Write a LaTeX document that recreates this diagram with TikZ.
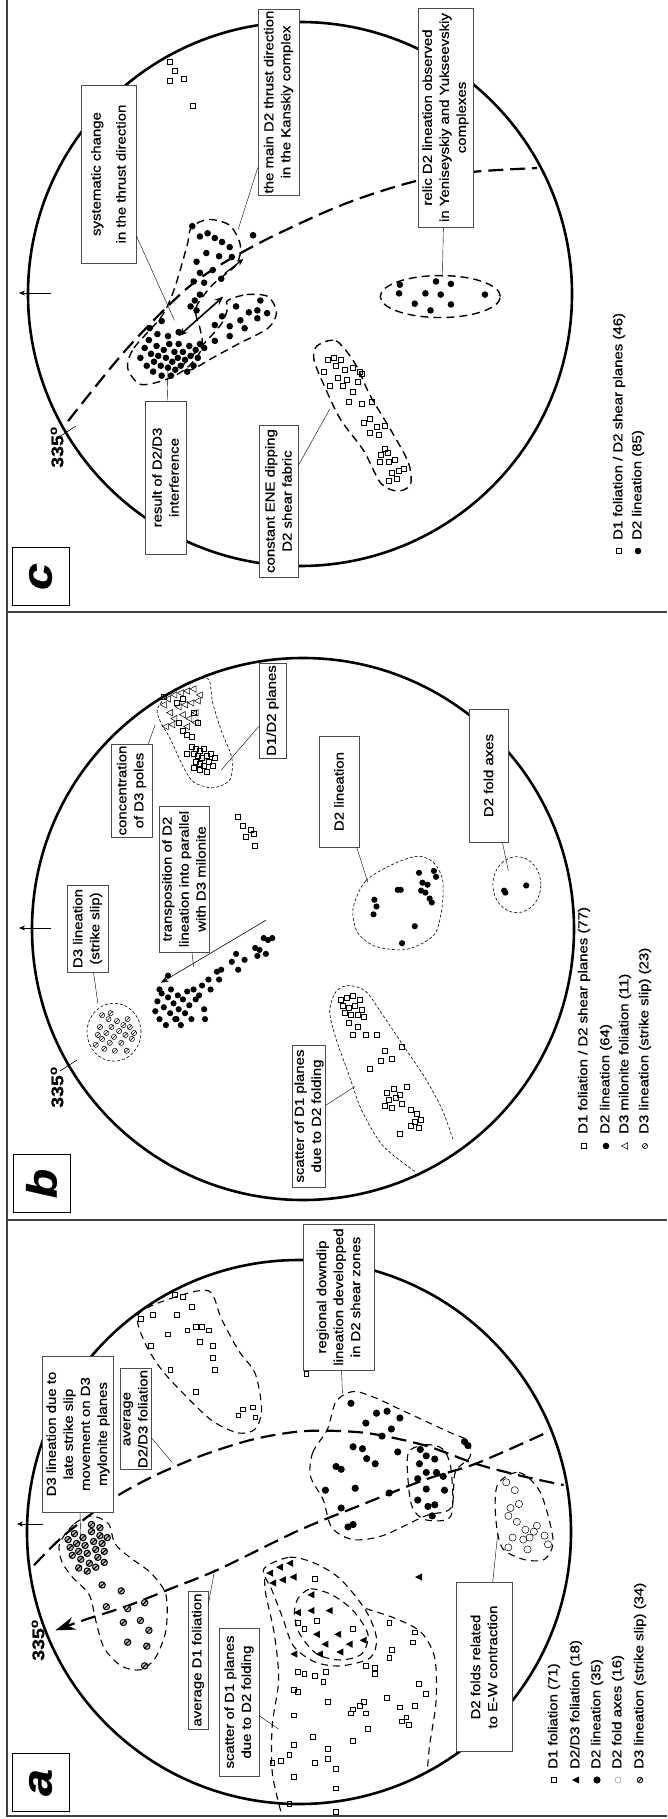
\documentclass[tikz,border=0pt]{standalone}
\usepackage{fontspec}
\setmainfont[FakeStretch=1.15,FakeBold=0.7]{Liberation Sans}
\usetikzlibrary{arrows.meta}

\tikzset{
  net/.style={line width=2.6pt},
  frame/.style={line width=1.2pt, black!75},
  note/.style={draw=black!70, fill=white, line width=0.6pt, rotate=90, align=center,
    inner sep=1.5pt, font=\fontsize{13}{17}\selectfont},
  letter/.style={draw, line width=1pt, rotate=90, minimum width=58pt, minimum height=57pt,
    inner sep=0pt, font=\fontsize{42}{42}\selectfont\bfseries\itshape},
  key/.style={rotate=90, anchor=west, inner sep=0pt, font=\fontsize{13}{15}\selectfont},
  deg/.style={rotate=90, inner sep=0pt, font=\fontsize{17}{17}\selectfont\bfseries},
  lead/.style={line width=0.4pt},
  girdle/.style={line width=2.2pt, dash pattern=on 15pt off 7pt},
  zonec/.style={line width=1.4pt, dash pattern=on 8pt off 5pt},
  zoneb/.style={line width=0.6pt, dash pattern=on 3pt off 2pt},
  zonea/.style={line width=1.1pt, dash pattern=on 7pt off 5pt},
  sq/.style={line width=0.5pt},
}

\begin{document}
\begin{tikzpicture}[x=1pt,y=-1pt]
\useasboundingbox (0,0) rectangle (667,1819);

% frame and panels
\draw[frame] (7,0) -- (7,1816) -- (667,1816);
\draw[frame] (7,612) -- (667,612);
\draw[frame] (7,1220) -- (667,1220);

% nets
\draw[net] (300,294) circle[radius=272pt];
\draw[net] (303,929) circle[radius=271pt];
\draw[net] (299,1532) circle[radius=272pt];

% north arrows and 335 ticks
\coordinate (cn0) at (51,293);  \coordinate (cn1) at (19,293);
\coordinate (bn0) at (51,928);  \coordinate (bn1) at (19,928);
\coordinate (an0) at (43,1524); \coordinate (an1) at (17,1524);
\foreach \p in {c,b,a}{
  \draw[line width=0.6pt, -{Stealth[length=6pt,width=5pt]}] (\p n0) -- (\p n1);
}
\coordinate (ct0) at (59,437);  \coordinate (ct1) at (76,426);
\coordinate (bt0) at (60,1071); \coordinate (bt1) at (77,1060);
\draw[line width=0.6pt] (ct0) -- (ct1);
\draw[line width=0.6pt] (bt0) -- (bt1);
\node[deg] (cdeg) at (57,447) {335\textsuperscript{o}};
\node[deg] (bdeg) at (57,1087) {335\textsuperscript{o}};
\node[deg] (adeg) at (38,1640) {335\textsuperscript{o}};

% ---------------- panel c
\begin{scope}[x=0.4254pt,y=-0.3954pt]
\draw[girdle] plot[smooth] coordinates {(160,1065) (300,880) (450,720) (600,620) (800,520) (970,460) (1110,435) (1262,425)};
\draw[zonec] plot[smooth cycle] coordinates {(300,930) (315,880) (380,800) (410,730) (440,620) (450,575) (490,555) (540,570) (565,620) (555,670) (500,720) (460,780) (470,830) (475,880) (440,930) (390,960) (330,972)};
\draw[zonec] plot[smooth cycle] coordinates {(535,760) (580,745) (630,750) (650,790) (630,830) (560,870) (500,905) (450,935) (430,925) (470,880) (520,820) (535,780)};
\draw[zonec] plot[smooth cycle] coordinates {(745,875) (790,862) (835,920) (870,1000) (920,1090) (960,1170) (965,1225) (935,1242) (895,1222) (855,1140) (800,1060) (760,970) (738,910)};
\draw[zonec] (1035,750) ellipse[x radius=60pt, y radius=21pt];
% D2 lineation
\foreach \x/\y in {330/905,340/880,345/925,350/860,355/895,360/940,362/915,368/875,372/900,378/925,
  380/950,385/885,390/905,395/930,398/870,402/950,405/915,410/890,412/935,418/905,420/870,425/925,
  430/890,435/910,440/940,445/875,448/900,455/925,460/885,465/905,470/870,352/830,370/845,395/850,
  420/840,458/760,462/785,448/775,470/745,380/812,
  452/572,470/598,488/590,505/602,522/612,540/625,545/650,515/648,485/640,462/662,500/683,470/690,
  455/712,480/715,520/705,595/595,
  540/825,565/810,585/790,605/785,628/792,605/805,575/830,540/850,505/862,480/880,505/822,522/800,
  555/775,612/760,
  940/720,938/742,975/768,1000/742,1012/785,1025/712,1036/745,1060/718,1060/770,1140/745}
  \fill (\x,\y) circle[radius=3.3pt];
% D1 foliation / D2 shear planes
\foreach \x/\y in {770/910,785/905,800/910,790/925,810/935,830/930,845/940,795/955,815/960,840/965,
  775/975,805/975,830/990,820/1015,850/1020,875/1015,855/1070,870/1060,885/1080,905/1078,870/1095,
  890/1100,905/1135,895/1150,912/1145,928/1162,892/1168,915/1168,938/1190,950/1186,920/1195,
  932/1210,915/1215,850/945,760/940,
  398/155,410/180,398/205,432/200,452/268}
  \draw[sq] (\x,\y) +(-2.5pt,-2.5pt) rectangle +(2.5pt,2.5pt);
\draw[line width=1.6pt, {Stealth[length=9pt,width=7pt]}-{Stealth[length=9pt,width=7pt]}] (420,850) -- (525,750);
\draw[line width=1.2pt, -{Stealth[length=7pt,width=6pt]}] (528,692) -- (572,655);
\coordinate (csys-e) at (410,810);
\coordinate (cmain-e) at (560,580);
\coordinate (crelic-e) at (1040,700);
\coordinate (cres-e) at (395,920);
\coordinate (cene-e) at (775,1035);
\end{scope}

% ---------------- panel b
\begin{scope}[shift={(0pt,-600pt)},x=0.4254pt,y=-0.3954pt]
\draw[zoneb] (268,1093) ellipse[x radius=27pt, y radius=29pt];
\draw[zoneb] plot[smooth cycle] coordinates {(370,275) (400,235) (450,205) (490,200) (500,260) (520,330) (545,400) (540,455) (500,475) (455,460) (430,420) (400,350) (378,310)};
\draw[zoneb] plot[smooth cycle] coordinates {(830,780) (860,710) (930,665) (985,648) (1020,665) (1040,705) (1040,770) (1025,840) (990,870) (945,885) (880,875) (840,840)};
\draw[zoneb] (1215,720) ellipse[x radius=24pt, y radius=28pt];
\draw[zoneb] plot[smooth] coordinates {(975,1445) (900,1380) (850,1290) (820,1200) (790,1110) (775,1040) (790,990) (820,975) (860,990) (900,1050) (950,1130) (1000,1210) (1040,1290) (1065,1365)};
% D3 lineation (strike slip)
\foreach \x/\y in {225/1125,230/1100,235/1080,240/1110,245/1135,250/1095,255/1060,258/1120,262/1080,
  268/1105,270/1140,275/1065,280/1090,285/1120,290/1075,295/1100,298/1140,305/1080,310/1110,
  315/1095,260/1045,240/1050,300/1060}
  \draw[line width=0.5pt] (\x,\y) circle[radius=2.6pt] (\x,\y) ++(-1.8pt,-1.8pt) -- ++(3.6pt,3.6pt);
% D2 lineation
\foreach \x/\y in {365/1040,370/1015,375/1060,380/995,385/1030,390/1075,395/1005,400/1045,402/985,
  408/1020,412/1060,418/1000,420/1035,425/1075,430/1010,435/1045,440/990,445/1025,450/1060,
  460/1010,455/985,468/1000,475/975,480/1035,490/960,495/985,510/940,515/960,520/935,545/915,
  555/895,560/935,575/910,600/880,605/900,610/885,625/895,630/860,640/855,620/855,482/1060,
  395/950,415/1060,375/985,
  935/733,942/733,880/758,885/775,878/795,985/690,993/715,1020/685,1025/700,1000/740,1010/755,
  1015/765,975/825,945/868,990/735,1005/720,
  1185/735,1188/740,1237/722}
  \fill (\x,\y) circle[radius=3.1pt];
% D3 milonite foliation
\foreach \x/\y in {385/265,395/250,410/240,425/235,440/230,455/225,470/240,400/285,420/270,435/265,
  450/260,465/255,410/300,430/290,445/300,460/285,405/315,440/320,460/310,390/320}
  \draw[sq] (\x,\y) ++(-3.5pt,0pt) -- ++(6pt,3.2pt) -- ++(0pt,-6.4pt) -- cycle;
% D1 foliation / D2 shear planes
\foreach \x/\y in {385/245,415/260,430/250,455/285,465/310,420/310,430/330,440/340,450/370,460/375,
  470/380,480/375,455/390,465/395,475/400,485/395,495/390,460/410,470/415,480/420,490/410,500/420,
  455/425,470/430,485/435,505/400,440/390,450/345,
  560/548,570/572,590/580,597/590,578/600,598/622,
  800/1010,815/1005,830/1000,845/1010,805/1025,820/1030,835/1025,850/1035,810/1045,825/1050,
  840/1050,855/1055,820/1070,840/1080,830/1100,860/1100,885/1100,905/1140,945/1130,870/1185,
  895/1165,920/1160,910/1245,925/1235,940/1250,955/1230,915/1265,930/1260,945/1275,905/1280,
  920/1285,965/1290,980/1300,975/1320,990/1315,985/1335,965/1330,940/1350}
  \draw[sq] (\x,\y) +(-2.5pt,-2.5pt) rectangle +(2.5pt,2.5pt);
\draw[line width=0.6pt, -{Stealth[length=8pt,width=6pt]}] (625,810) -- (378,968);
\coordinate (bss-e) at (230,1020);
\coordinate (btr-e) at (455,928);
\coordinate (bcon-e) at (365,315);
\coordinate (bpl-e) at (520,430);
\coordinate (blin-e) at (865,715);
\coordinate (bfold-e) at (1195,685);
\coordinate (bsc-e) at (835,1230);
\end{scope}

% ---------------- panel a
\begin{scope}[shift={(0pt,-1200pt)},x=0.4254pt,y=-0.3948pt]
\draw[girdle] plot[smooth] coordinates {(80,925) (150,850) (260,760) (360,700) (480,645) (600,605) (720,585) (860,590) (1000,622) (1118,668) (1230,700) (1325,722)};
\draw[girdle, -{Stealth[length=20pt,width=13pt]}] plot[smooth] coordinates {(1277,593) (1118,668) (1000,708) (850,772) (700,838) (515,935) (400,985) (300,1028) (200,1063) (130,1090)};
\draw[zonea] plot[smooth cycle] coordinates {(140,870) (175,820) (215,800) (255,820) (270,870) (305,905) (355,945) (390,1000) (390,1090) (365,1160) (330,1190) (285,1180) (245,1135) (225,1065) (210,1000) (170,955) (145,915)};
\draw[zonea] plot[smooth cycle] coordinates {(325,290) (400,250) (490,230) (520,300) (560,380) (600,440) (615,530) (600,580) (560,590) (500,560) (440,500) (380,430) (340,360)};
\draw[zonea] plot[smooth cycle] coordinates {(620,935) (680,905) (740,920) (800,960) (860,1040) (885,1110) (870,1160) (800,1180) (740,1170) (690,1130) (665,1060) (640,990)};
\draw[zonea] plot[smooth cycle] coordinates {(700,1010) (730,985) (780,1000) (830,1040) (865,1100) (850,1150) (800,1165) (745,1150) (705,1100) (692,1050)};
\draw[zonea] plot[smooth] coordinates {(660,1548) (640,1450) (640,1330) (655,1215) (645,1100) (625,1000) (622,960)};
\draw[zonea] plot[smooth] coordinates {(860,1035) (930,1060) (990,1095) (1022,1160) (1025,1270) (1010,1380) (1005,1440)};
\draw[zonea] plot[smooth cycle] coordinates {(730,700) (735,640) (770,580) (790,510) (830,485) (880,500) (940,530) (1000,560) (1060,590) (1100,610) (1105,650) (1070,690) (1060,780) (1000,800) (900,850) (830,860) (780,830) (760,760)};
\draw[zonea] plot[smooth cycle] coordinates {(960,640) (1000,620) (1040,630) (1060,680) (1060,800) (1000,810) (970,780) (960,720)};
\draw[zonea] plot[smooth cycle] coordinates {(1170,720) (1220,690) (1270,740) (1300,860) (1280,910) (1230,910) (1180,880) (1165,800)};
% D3 lineation (strike slip)
\foreach \x/\y in {160/860,165/880,170/900,175/845,180/870,185/890,190/910,195/855,200/875,205/895,
  210/920,215/840,220/865,225/885,230/905,235/850,240/870,245/890,215/822,235/830,185/932,205/940,
  225/930,245/918,252/855,
  240/975,285/990,250/1030,300/1035,340/1020,330/1065,290/1070,350/1090,300/1120,345/1130,340/1180}
  \draw[line width=1pt, fill=black!25] (\x,\y) circle[radius=3.2pt] (\x,\y) ++(-2.2pt,-2.2pt) -- ++(4.4pt,4.4pt);
% D2 lineation
\foreach \x/\y in {825/515,860/565,885/540,910/535,940/552,920/580,898/598,830/625,852/630,862/655,
  882/668,935/638,790/675,802/682,765/735,835/730,915/742,802/780,818/828,830/822,
  988/632,1002/648,1022/656,986/668,1002/690,1026/690,1042/700,982/706,1002/732,1045/735,982/760,
  1006/776,1022/772,1016/800,1092/612,1100/622}
  \fill (\x,\y) circle[radius=3.6pt];
% D2 fold axes
\foreach \x/\y in {1190/715,1210/735,1220/770,1200/780,1195/800,1215/815,1235/835,1255/840,1245/855,
  1230/860,1205/855,1195/880,1240/885,1280/850,1288/872,1262/825}
  \draw[line width=0.5pt] (\x,\y) circle[radius=3.6pt];
% D2/D3 foliation
\foreach \x/\y in {635/945,658/930,682/920,642/970,665/962,690/955,700/1045,732/1000,732/1040,775/1040,
  692/1150,745/1100,765/1125,795/1100,800/1145,822/1125,855/1115,752/1150,985/955}
  \fill (\x,\y) ++(-4pt,0pt) -- ++(7pt,3.6pt) -- ++(0pt,-7.2pt) -- cycle;
% D1 foliation
\foreach \x/\y in {330/300,360/290,410/240,430/245,450/270,415/290,440/330,460/320,475/320,490/330,
  395/340,355/370,470/360,500/370,500/400,505/430,400/430,460/485,560/545,570/530,595/525,600/550,
  720/440,
  700/1070,715/1085,745/1065,700/1195,715/1200,690/1240,700/1245,740/1205,760/1220,765/1195,
  690/1305,770/1270,735/1360,690/1380,680/1405,660/1420,640/1425,690/1460,740/1425,770/1390,
  770/1415,790/1440,790/1490,830/1370,825/1300,830/1290,845/1280,855/1270,860/1300,865/1340,
  860/1180,880/1185,880/1200,915/1160,920/1140,910/1260,940/1285,945/1320,955/1310,960/1330,
  975/1095,970/1120,985/1225,1000/1250,975/1280,915/1070,830/1085,740/960,790/1550,680/1530}
  \draw[sq] (\x,\y) +(-2.4pt,-2.4pt) rectangle +(2.4pt,2.4pt);
\coordinate (ass-e) at (190,870);
\coordinate (aavg-e) at (405,665);
\coordinate (aone-e) at (505,935);
\coordinate (asc-e) at (655,1340);
\coordinate (afold-e) at (1170,845);
\coordinate (areg-e) at (805,490);
\end{scope}

% ---------------- notes
\node[note, minimum width=178pt, minimum height=55pt] (csys) at (108.5,174) {systematic change\\[8pt] in the thrust direction};
\node[note, minimum width=184pt, minimum height=41pt] (cmain) at (278.5,102) {the main D2 thrust direction\\ in the Kanskiy complex};
\node[note, minimum width=219pt, minimum height=55pt] (crelic) at (445.5,117.5) {relic D2 lineation observed\\ in Yeniseyskiy and Yukseevskiy\\ complexes};
\node[note, minimum width=153pt, minimum height=41pt] (cres) at (165.5,477.5) {result of D2/D3\\ interference};
\node[note, minimum width=152pt, minimum height=39pt] (cene) at (278.5,501) {constant ENE dipping\\ D2 shear fabric};
\node[letter] (clet) at (40.5,576.5) {c};

\node[note, minimum width=87pt, minimum height=41pt] (bss) at (87.5,928.5) {D3 lineation\\ (strike slip)};
\node[note, minimum width=146pt, minimum height=50pt] (btr) at (184,879) {transposition of D2\\ lineation into parallel\\ with D3 milonite};
\node[note, minimum width=93pt, minimum height=41pt] (bcon) at (131.5,790.5) {concentration\\ of D3 poles};
\node[note, minimum width=95pt, minimum height=27pt] (bpl) at (272.5,710.5) {D1/D2 planes};
\node[note, minimum width=111pt, minimum height=40pt] (blin) at (339,791.5) {D2 lineation};
\node[note, minimum width=133pt, minimum height=39pt] (bfold) at (488.5,775.5) {D2 fold axes};
\node[note, minimum width=142pt, minimum height=33pt] (bsc) at (309,1116) {scatter of D1 planes\\ due to D2 folding};
\node[letter] (blet) at (41.5,1183.5) {b};

\node[note, minimum width=156pt, minimum height=71pt] (ass) at (78,1434) {D3 lineation due to\\ late strike slip\\ movement on D3\\ mylonite planes};
\node[note, minimum width=98pt, minimum height=31pt] (aavg) at (135.5,1419) {average\\ D2/D3 foliation};
\node[note, minimum width=138pt, minimum height=20pt] (aone) at (198,1660) {average D1 foliation};
\node[note, minimum width=148pt, minimum height=40pt] (asc) at (239,1702) {scatter of D1 planes\\ due to D2 folding};
\node[note, minimum width=169pt, minimum height=56pt] (afold) at (484,1667) {D2 folds related\\ to E-W contraction};
\node[note, minimum width=146pt, minimum height=71pt] (areg) at (338.5,1297) {regional downdip\\ lineation developped\\ in D2 shear zones};
\node[letter] (alet) at (40.5,1782.5) {a};

% leaders
\foreach \n in {csys,cmain,crelic,cres,cene,bss,btr,bcon,bpl,blin,bfold,bsc,ass,aavg,aone,asc,afold,areg}
  \draw[lead] (\n) -- (\n-e);

% ---------------- keys
\draw[sq] (619,551) +(-2.5pt,-2.5pt) rectangle +(2.5pt,2.5pt);
\fill (638,551) circle[radius=3.3pt];
\node[key] (ck1) at (619,540) {D1 foliation / D2 shear planes (46)};
\node[key] (ck2) at (638,540) {D2 lineation (85)};

\draw[sq] (584,1146) +(-2.5pt,-2.5pt) rectangle +(2.5pt,2.5pt);
\fill (606,1146) circle[radius=3.3pt];
\draw[sq] (625,1146) ++(-3.5pt,0pt) -- ++(6pt,3.2pt) -- ++(0pt,-6.4pt) -- cycle;
\draw[line width=0.6pt] (645,1146) circle[radius=2.6pt] (645,1146) ++(-1.8pt,-1.8pt) -- ++(3.6pt,3.6pt);
\node[key] (bk1) at (584,1134) {D1 foliation / D2 shear planes (77)};
\node[key] (bk2) at (606,1134) {D2 lineation (64)};
\node[key] (bk3) at (625,1134) {D3 milonite foliation (11)};
\node[key] (bk4) at (645,1134) {D3 lineation (strike slip) (23)};

\draw[sq] (554,1780) +(-2.5pt,-2.5pt) rectangle +(2.5pt,2.5pt);
\fill (576,1780) ++(-4pt,0pt) -- ++(7pt,3.6pt) -- ++(0pt,-7.2pt) -- cycle;
\fill (597,1780) circle[radius=3.6pt];
\draw[black!40, line width=0.5pt] (618,1780) circle[radius=3pt];
\draw[line width=0.8pt] (640,1780) circle[radius=2.8pt] (640,1780) ++(-2pt,-2pt) -- ++(4pt,4pt);
\node[key] (ak1) at (554,1769) {D1 foliation (71)};
\node[key] (ak2) at (576,1769) {D2/D3 foliation (18)};
\node[key] (ak3) at (597,1769) {D2 lineation (35)};
\node[key] (ak4) at (618,1769) {D2 fold axes (16)};
\node[key] (ak5) at (640,1769) {D3 lineation (strike slip) (34)};
\end{tikzpicture}
\end{document}
